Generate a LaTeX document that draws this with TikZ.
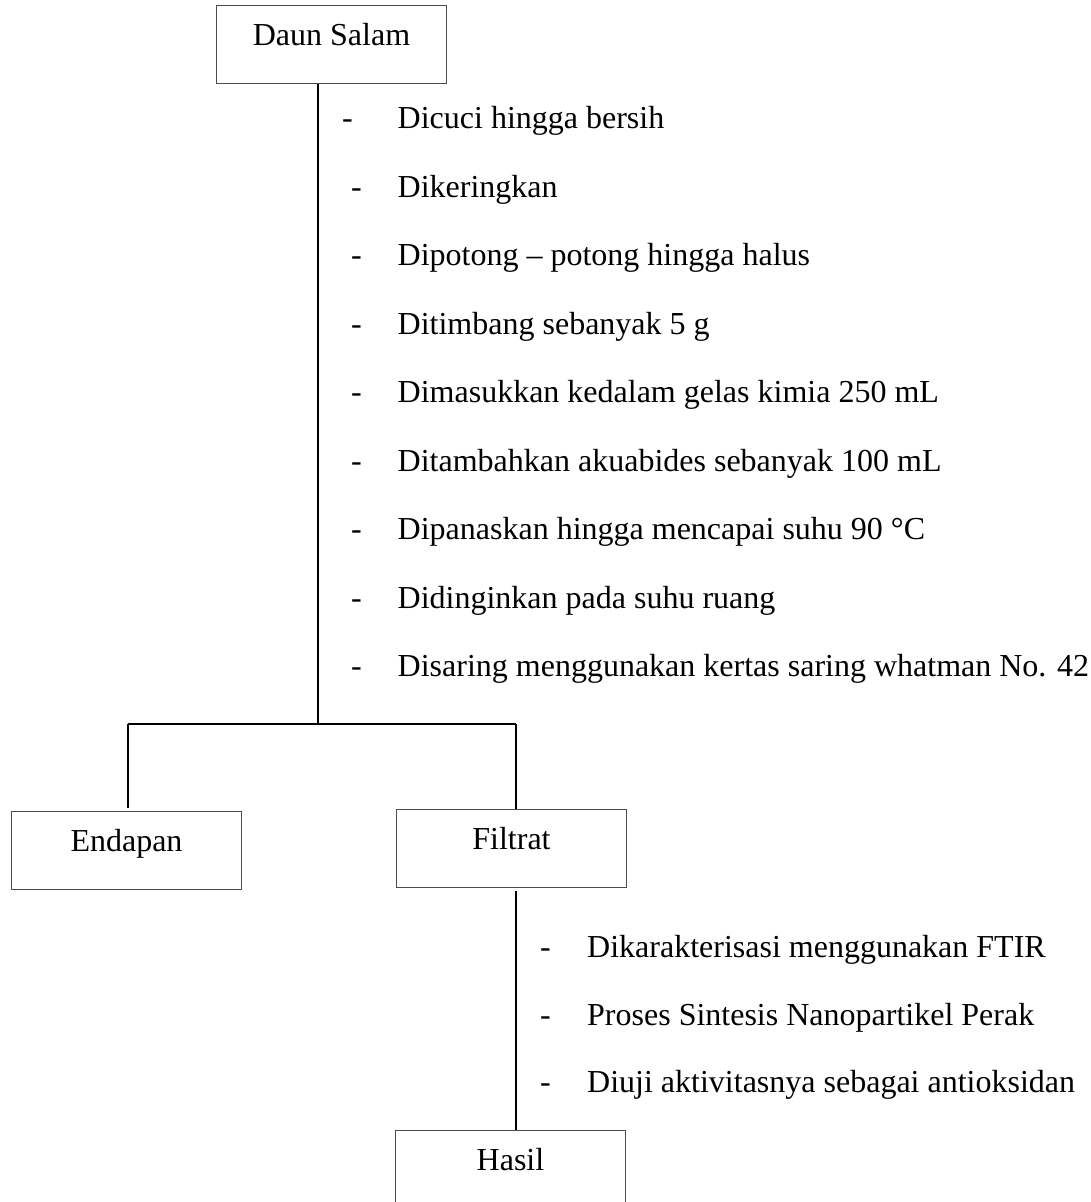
\documentclass[tikz,border=0pt]{standalone}
\usepackage{fontspec}
\setmainfont{Liberation Serif}
\begin{document}
\begin{tikzpicture}[x=1pt,y=-1pt,
  font=\fontsize{32}{38}\selectfont,
  box/.style={draw=black!70, line width=1pt, minimum width=230pt, inner sep=0pt,
    text height=40pt, text depth=38pt, anchor=north west, align=center},
  conn/.style={line width=1.8pt, black},
  item/.style={anchor=base west, inner sep=0pt}]
\useasboundingbox (0,0) rectangle (1090,1202);

% boxes
\node[box] (ds) at (216,5) {Daun Salam};
\node[box] (en) at (11,811) {Endapan};
\node[box] (fi) at (396,809) {Filtrat};
\node[box] (ha) at (395,1130) {Hasil};

% junctions
\coordinate (j) at (318,724);
\coordinate (jl) at (128,724);
\coordinate (jr) at (516,724);

% connectors
\draw[conn] (ds.south -| j) -- (j);
\draw[conn] (jl) -- (jr);
\draw[conn, shorten >=3pt] (jl) -- (en.north -| jl);
\draw[conn] (jr) -- (fi.north -| jr);
\draw[conn, shorten <=3pt] (fi.south -| jr) -- (ha.north -| jr);

% upper list
\node[item] (d1) at (342,128) {-};
\node[item] (u1) at (397.5,128) {Dicuci hingga bersih};
\node[item] (d2) at (351,197) {-};
\node[item] (u2) at (397.5,197) {Dikeringkan};
\node[item] (d3) at (351,265) {-};
\node[item] (u3) at (397.5,265) {Dipotong – potong hingga halus};
\node[item] (d4) at (351,334) {-};
\node[item] (u4) at (397.5,334) {Ditimbang sebanyak 5 g};
\node[item] (d5) at (351,402) {-};
\node[item] (u5) at (397.5,402) {Dimasukkan kedalam gelas kimia 250 mL};
\node[item] (d6) at (351,471) {-};
\node[item] (u6) at (397.5,471) {Ditambahkan akuabides sebanyak 100 mL};
\node[item] (d7) at (351,539) {-};
\node[item] (u7) at (397.5,539) {Dipanaskan hingga mencapai suhu 90 °C};
\node[item] (d8) at (351,608) {-};
\node[item] (u8) at (397.5,608) {Didinginkan pada suhu ruang};
\node[item] (d9) at (351,676) {-};
\node[item] (u9) at (397.5,676) {Disaring menggunakan kertas saring whatman No. 42};

% lower list
\node[item] (e1) at (540,957) {-};
\node[item] (l1) at (587,957) {Dikarakterisasi menggunakan FTIR};
\node[item] (e2) at (540,1025) {-};
\node[item] (l2) at (587,1025) {Proses Sintesis Nanopartikel Perak};
\node[item] (e3) at (540,1092) {-};
\node[item] (l3) at (587,1092) {Diuji aktivitasnya sebagai antioksidan};
\end{tikzpicture}
\end{document}
